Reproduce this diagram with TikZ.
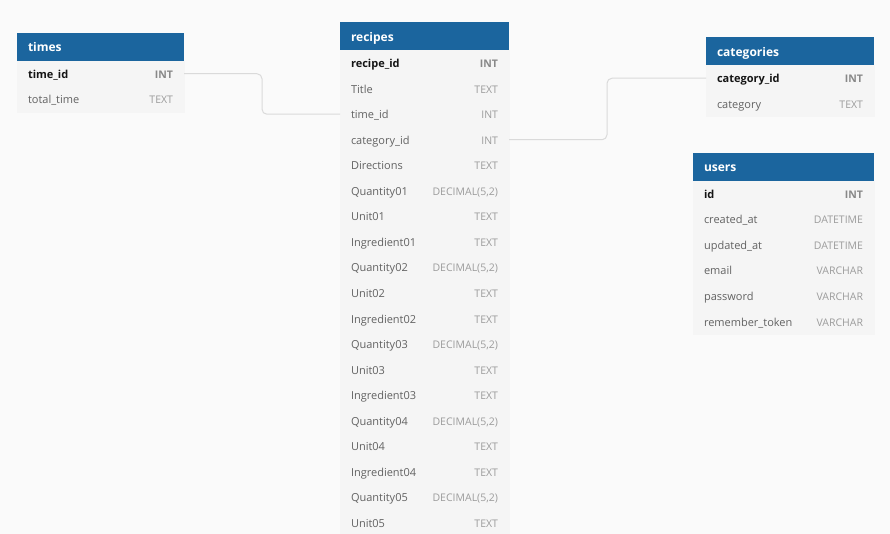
\documentclass[tikz,border=0pt]{standalone}
\usepackage{fontspec}
\setmainfont{Open Sans}
\usepackage{xcolor}
\usetikzlibrary{positioning}
\definecolor{canvas}{HTML}{FAFAFA}
\definecolor{header}{HTML}{1B659E}
\definecolor{rowbg}{HTML}{F5F5F5}
\definecolor{fieldtext}{HTML}{626262}
\definecolor{keytext}{HTML}{151515}
\definecolor{typetext}{HTML}{9C9C9C}
\definecolor{keytype}{HTML}{888888}
\definecolor{linkgray}{HTML}{DADADA}
\newcommand\coltype[1]{\hskip 0pt plus 1filll{\color{typetext}\fontsize{10.5}{12}\selectfont #1}}
\newcommand\keytype[1]{\hskip 0pt plus 1filll{\color{keytype}\fontsize{10.5}{12}\selectfont\bfseries #1}}

\begin{document}
\begin{tikzpicture}[x=1pt, y=-1pt,
    tablehead/.style={fill=header, text=white, font=\fontsize{12}{14}\selectfont\bfseries,
        minimum height=28pt, inner ysep=0pt, inner xsep=11pt, outer sep=0pt,
        text height=11.5pt, text depth=2pt, anchor=north west},
    tablerow/.style={fill=rowbg, draw=rowbg, line width=0.6pt, text=fieldtext,
        font=\fontsize{11}{13}\selectfont, minimum height=25.5pt, inner ysep=0pt,
        inner xsep=11pt, outer sep=0pt, text height=11.5pt, text depth=2pt, below=0pt of #1},
    keyrow/.style={tablerow=#1, text=keytext, font=\fontsize{11}{13}\selectfont\bfseries},
    link/.style={draw=linkgray, line width=1pt, rounded corners=5pt}
]
    % Canvas
    \useasboundingbox (0,0) rectangle (890,534);
    \clip (0,0) rectangle (890,534);
    \fill[canvas] (0,0) rectangle (890,534);

    % times
    \begin{scope}[every node/.append style={text width=145pt}]
        \node[tablehead] (times) at (17,33) {times};
        \node[keyrow=times] (times-1) {time\_id\keytype{INT}};
        \node[tablerow=times-1] (times-2) {total\_time\coltype{TEXT}};
    \end{scope}

    % recipes
    \begin{scope}[every node/.append style={text width=147pt}]
        \node[tablehead] (recipes) at (340,22.5) {recipes};
        \node[keyrow=recipes] (recipes-1) {recipe\_id\keytype{INT}};
        \foreach \fname/\ftype [count=\i from 2] in {Title/TEXT, time\_id/INT,
            category\_id/INT, Directions/TEXT, Quantity01/{DECIMAL(5,2)}, Unit01/TEXT,
            Ingredient01/TEXT, Quantity02/{DECIMAL(5,2)}, Unit02/TEXT, Ingredient02/TEXT,
            Quantity03/{DECIMAL(5,2)}, Unit03/TEXT, Ingredient03/TEXT,
            Quantity04/{DECIMAL(5,2)}, Unit04/TEXT, Ingredient04/TEXT,
            Quantity05/{DECIMAL(5,2)}, Unit05/TEXT} {
            \pgfmathtruncatemacro\prev{\i-1}
            \node[tablerow=recipes-\prev] (recipes-\i) {\fname\coltype{\ftype}};
        }
    \end{scope}

    % categories
    \begin{scope}[every node/.append style={text width=146pt}]
        \node[tablehead] (categories) at (706,37.5) {categories};
        \node[keyrow=categories] (categories-1) {category\_id\keytype{INT}};
        \node[tablerow=categories-1] (categories-2) {category\coltype{TEXT}};
    \end{scope}

    % users
    \begin{scope}[every node/.append style={text width=159pt}]
        \node[tablehead] (users) at (693,153) {users};
        \node[keyrow=users] (users-1) {id\keytype{INT}};
        \foreach \fname/\ftype [count=\i from 2] in {created\_at/DATETIME,
            updated\_at/DATETIME, email/VARCHAR, password/VARCHAR,
            remember\_token/VARCHAR} {
            \pgfmathtruncatemacro\prev{\i-1}
            \node[tablerow=users-\prev] (users-\i) {\fname\coltype{\ftype}};
        }
    \end{scope}

    % References
    \draw[link] (times-1.east) -- ++(78,0) |- (recipes-3.west);
    \draw[link] (recipes-4.east) -- ++(98,0) |- (categories-1.west);
\end{tikzpicture}
\end{document}
